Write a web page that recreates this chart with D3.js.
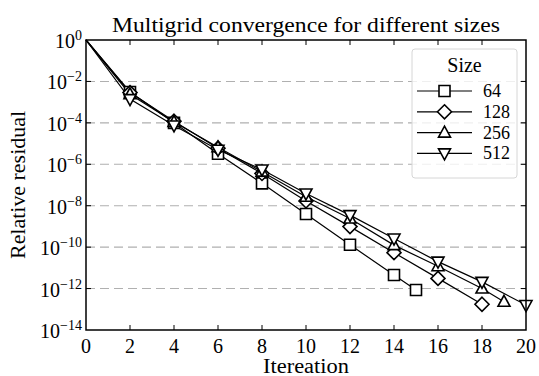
<!DOCTYPE html>
<html lang="en">
<head>
<meta charset="utf-8">
<script src="https://cdn.jsdelivr.net/npm/d3@7"></script>
<style>
  body { margin: 0; background: #fff; }
</style>
</head>
<body>
<script>
// iteration -> relative residual
var sizes = ["64", "128", "256", "512"];
var iters64  = [0, 2, 4, 6, 8, 10, 12, 14, 15];
var res64    = [1, 3.1e-3, 1.0e-4, 3.2e-6, 1.2e-7, 4.0e-9, 1.3e-10, 4.5e-12, 8.5e-13];
var iters128 = [0, 2, 4, 6, 8, 10, 12, 14, 16, 18];
var res128   = [1, 2.9e-3, 1.2e-4, 6.0e-6, 3.6e-7, 1.7e-8, 9.8e-10, 5.4e-11, 3.1e-12, 1.75e-13];
var iters256 = [0, 2, 4, 6, 8, 10, 12, 14, 16, 18, 19];
var res256   = [1, 2.4e-3, 1.1e-4, 6.6e-6, 4.4e-7, 2.7e-8, 2.4e-9, 1.25e-10, 1.2e-11, 1.0e-12, 2.3e-13];
var iters512 = [0, 2, 4, 6, 8, 10, 12, 14, 16, 18, 20];
var res512   = [1, 1.4e-3, 7.5e-5, 5.0e-6, 5.6e-7, 3.9e-8, 3.5e-9, 2.6e-10, 2.0e-11, 2.1e-12, 1.6e-13];
var markers  = ["square", "diamond", "triup", "tridown"];
var xTicks = [0, 2, 4, 6, 8, 10, 12, 14, 16, 18, 20];
var yExps  = [0, -2, -4, -6, -8, -10, -12, -14];

var w = 539, h = 376;
var pl = 86, pr = 526, pt = 40, pb = 330; // plot box
var font = "'Liberation Serif', 'Times New Roman', serif";

var svg = d3.select("body").append("svg")
  .attr("width", w).attr("height", h)
  .style("font-family", font);

var x = d3.scaleLinear().domain([0, 20]).range([pl, pr]);
var y = d3.scaleLog().domain([1e-14, 1]).range([pb, pt]);

// dashed grid
svg.append("g").selectAll("line")
  .data(yExps.slice(1, -1))
  .enter().append("line")
  .attr("x1", pl).attr("x2", pr)
  .attr("y1", function(d){ return y(Math.pow(10, d)); })
  .attr("y2", function(d){ return y(Math.pow(10, d)); })
  .attr("stroke", "#b0b0b0").attr("stroke-width", 1.1)
  .attr("stroke-dasharray", "9,5");

var series = [
  {name: sizes[0], it: iters64,  r: res64,  m: markers[0]},
  {name: sizes[1], it: iters128, r: res128, m: markers[1]},
  {name: sizes[2], it: iters256, r: res256, m: markers[2]},
  {name: sizes[3], it: iters512, r: res512, m: markers[3]}
];

function marker(g, type) {
  var p;
  if (type == "square") p = "M-5.5,-5.5H5.5V5.5H-5.5Z";
  if (type == "diamond") p = "M0,-7L7,0L0,7L-7,0Z";
  if (type == "triup") p = "M0,-6.5L6,4.5L-6,4.5Z";
  if (type == "tridown") p = "M0,6.5L6,-4.5L-6,-4.5Z";
  return g.append("path").attr("d", p)
    .attr("fill", "#fff").attr("stroke", "#000").attr("stroke-width", 1.6);
}

var line = d3.line()
  .x(function(d){ return x(d[0]); })
  .y(function(d){ return y(d[1]); });

var plot = svg.append("g");
series.forEach(function(s) {
  var pts = s.it.map(function(v, i){ return [v, s.r[i]]; });
  plot.append("path").datum(pts)
    .attr("d", line).attr("fill", "none")
    .attr("stroke", "#000").attr("stroke-width", 1.2);
});
series.forEach(function(s) {
  s.it.forEach(function(v, i) {
    if (i == 0) return;
    var g = plot.append("g").attr("transform", "translate(" + x(v) + "," + y(s.r[i]) + ")");
    marker(g, s.m);
  });
});

// frame with inward ticks
var frame = svg.append("g");
frame.append("rect")
  .attr("x", pl).attr("y", pt)
  .attr("width", pr - pl).attr("height", pb - pt)
  .attr("fill", "none").attr("stroke", "#000").attr("stroke-width", 1.5);

var tl = 5;
xTicks.slice(1, -1).forEach(function(t) {
  frame.append("line").attr("x1", x(t)).attr("x2", x(t))
    .attr("y1", pb).attr("y2", pb - tl).attr("stroke", "#000");
  frame.append("line").attr("x1", x(t)).attr("x2", x(t))
    .attr("y1", pt).attr("y2", pt + tl).attr("stroke", "#000");
});
yExps.slice(1, -1).forEach(function(e) {
  var yy = y(Math.pow(10, e));
  frame.append("line").attr("x1", pl).attr("x2", pl + tl)
    .attr("y1", yy).attr("y2", yy).attr("stroke", "#000");
  frame.append("line").attr("x1", pr).attr("x2", pr - tl)
    .attr("y1", yy).attr("y2", yy).attr("stroke", "#000");
});

// tick labels
svg.append("g").selectAll("text")
  .data(xTicks).enter().append("text")
  .attr("x", function(d){ return x(d); })
  .attr("y", 353)
  .attr("text-anchor", "middle")
  .attr("font-size", 20)
  .text(function(d){ return d; });

var yl = svg.append("g").selectAll("text")
  .data(yExps).enter().append("text")
  .attr("x", pl - 4)
  .attr("y", function(d){ return y(Math.pow(10, d)) + 8; })
  .attr("text-anchor", "end")
  .attr("font-size", 20);
yl.append("tspan").text("10");
yl.append("tspan")
  .attr("dy", -8).attr("font-size", 14)
  .text(function(d){ return d == 0 ? "0" : "\u2212" + (-d); });

// titles
svg.append("text").attr("x", (pl + pr) / 2).attr("y", 32)
  .attr("text-anchor", "middle").attr("font-size", 21)
  .attr("textLength", 388).attr("lengthAdjust", "spacingAndGlyphs")
  .text("Multigrid convergence for different sizes");
svg.append("text").attr("x", (pl + pr) / 2).attr("y", 373)
  .attr("text-anchor", "middle").attr("font-size", 20)
  .attr("textLength", 86).attr("lengthAdjust", "spacingAndGlyphs")
  .text("Itereation");
svg.append("text")
  .attr("transform", "translate(25," + ((pt + pb) / 2) + ") rotate(-90)")
  .attr("text-anchor", "middle").attr("font-size", 20)
  .attr("textLength", 148).attr("lengthAdjust", "spacingAndGlyphs")
  .text("Relative residual");

// legend
var lg = svg.append("g");
lg.append("rect")
  .attr("x", 412).attr("y", 49).attr("width", 105).attr("height", 129)
  .attr("rx", 3).attr("fill", "#fff").attr("fill-opacity", 0.8)
  .attr("stroke", "#d6d6d6").attr("stroke-width", 1);
lg.append("text").attr("x", 464.5).attr("y", 72)
  .attr("text-anchor", "middle").attr("font-size", 20).text("Size");
series.forEach(function(s, i) {
  var yy = 91 + i * 20.8;
  lg.append("line").attr("x1", 417).attr("x2", 472)
    .attr("y1", yy).attr("y2", yy).attr("stroke", "#000").attr("stroke-width", 1.2);
  var g = lg.append("g").attr("transform", "translate(444.5," + yy + ")");
  marker(g, s.m);
  lg.append("text").attr("x", 483).attr("y", yy + 6)
    .attr("font-size", 18).text(s.name);
});
</script>
</body>
</html>
